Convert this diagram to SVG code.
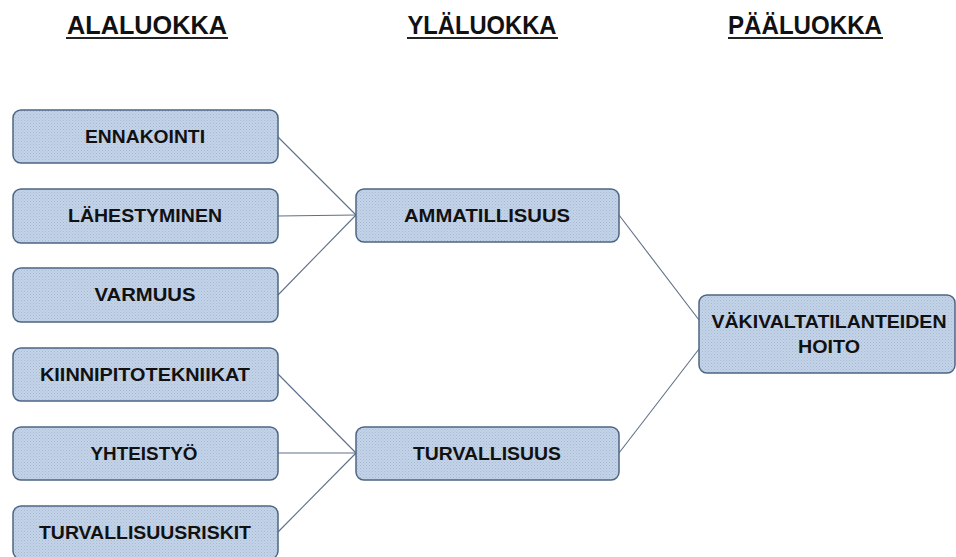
<svg xmlns="http://www.w3.org/2000/svg" width="956" height="557" viewBox="0 0 956 557">
<defs>
<pattern id="dots" width="3" height="3" patternUnits="userSpaceOnUse">
<rect width="3" height="3" fill="#c3d3e8"/>
<rect x="0" y="0" width="1" height="1" fill="#a8bad3"/>
<rect x="1.5" y="1.5" width="1" height="1" fill="#afc1d9"/>
</pattern>
<style>
.box{fill:url(#dots);stroke:#4d6582;stroke-width:1.5}
.t{font-family:"Liberation Sans",Arial,sans-serif;font-weight:bold;font-size:18.5px;fill:#111;text-anchor:middle}
.h{font-family:"Liberation Sans",Arial,sans-serif;font-weight:bold;font-size:26px;fill:#111;text-anchor:middle}
.ul{stroke:#222;stroke-width:2}
.c{stroke:#5f7088;stroke-width:1.1;fill:none}
</style>
</defs>
<rect width="956" height="557" fill="#ffffff"/>
<g id="headers">
<text class="h" x="147" y="34" textLength="160" lengthAdjust="spacingAndGlyphs">ALALUOKKA</text>
<line class="ul" x1="66" y1="38" x2="228" y2="38"/>
<text class="h" x="482" y="34" textLength="149" lengthAdjust="spacingAndGlyphs">YLÄLUOKKA</text>
<line class="ul" x1="407" y1="38" x2="558" y2="38"/>
<text class="h" x="805" y="34" textLength="154" lengthAdjust="spacingAndGlyphs">PÄÄLUOKKA</text>
<line class="ul" x1="728" y1="38" x2="883" y2="38"/>
</g>
<g id="connectors">
<line class="c" x1="278" y1="137" x2="356" y2="215"/>
<line class="c" x1="278" y1="216" x2="356" y2="215"/>
<line class="c" x1="278" y1="295" x2="356" y2="215"/>
<line class="c" x1="278" y1="374" x2="356" y2="453"/>
<line class="c" x1="278" y1="453" x2="356" y2="453"/>
<line class="c" x1="278" y1="532" x2="356" y2="453"/>
<line class="c" x1="619" y1="215" x2="699" y2="320"/>
<line class="c" x1="619" y1="453" x2="699" y2="349"/>
</g>
<g id="n-ennakointi">
<rect class="box" x="13" y="110" width="265" height="53" rx="8"/>
<text class="t" x="145" y="143" textLength="120" lengthAdjust="spacingAndGlyphs">ENNAKOINTI</text>
</g>
<g id="n-lahestyminen">
<rect class="box" x="13" y="189" width="265" height="54" rx="8"/>
<text class="t" x="145" y="222" textLength="154" lengthAdjust="spacingAndGlyphs">LÄHESTYMINEN</text>
</g>
<g id="n-varmuus">
<rect class="box" x="13" y="268" width="265" height="54" rx="8"/>
<text class="t" x="145" y="301" textLength="101" lengthAdjust="spacingAndGlyphs">VARMUUS</text>
</g>
<g id="n-kiinnipitotekniikat">
<rect class="box" x="13" y="348" width="265" height="53" rx="8"/>
<text class="t" x="145" y="381" textLength="210" lengthAdjust="spacingAndGlyphs">KIINNIPITOTEKNIIKAT</text>
</g>
<g id="n-yhteistyo">
<rect class="box" x="13" y="427" width="265" height="53" rx="8"/>
<text class="t" x="144" y="460" textLength="107" lengthAdjust="spacingAndGlyphs">YHTEISTYÖ</text>
</g>
<g id="n-turvallisuusriskit">
<rect class="box" x="13" y="506" width="265" height="53" rx="8"/>
<text class="t" x="145" y="539" textLength="212" lengthAdjust="spacingAndGlyphs">TURVALLISUUSRISKIT</text>
</g>
<g id="n-ammatillisuus">
<rect class="box" x="356" y="189" width="263" height="53" rx="8"/>
<text class="t" x="487" y="222" textLength="166" lengthAdjust="spacingAndGlyphs">AMMATILLISUUS</text>
</g>
<g id="n-turvallisuus">
<rect class="box" x="356" y="427" width="263" height="53" rx="8"/>
<text class="t" x="487" y="460" textLength="148" lengthAdjust="spacingAndGlyphs">TURVALLISUUS</text>
</g>
<g id="n-vakivaltatilanteiden-hoito">
<rect class="box" x="699" y="295" width="256" height="78" rx="8"/>
<text class="t" x="829" y="328" textLength="235" lengthAdjust="spacingAndGlyphs">VÄKIVALTATILANTEIDEN</text>
<text class="t" x="829" y="353" textLength="62" lengthAdjust="spacingAndGlyphs">HOITO</text>
</g>
</svg>
